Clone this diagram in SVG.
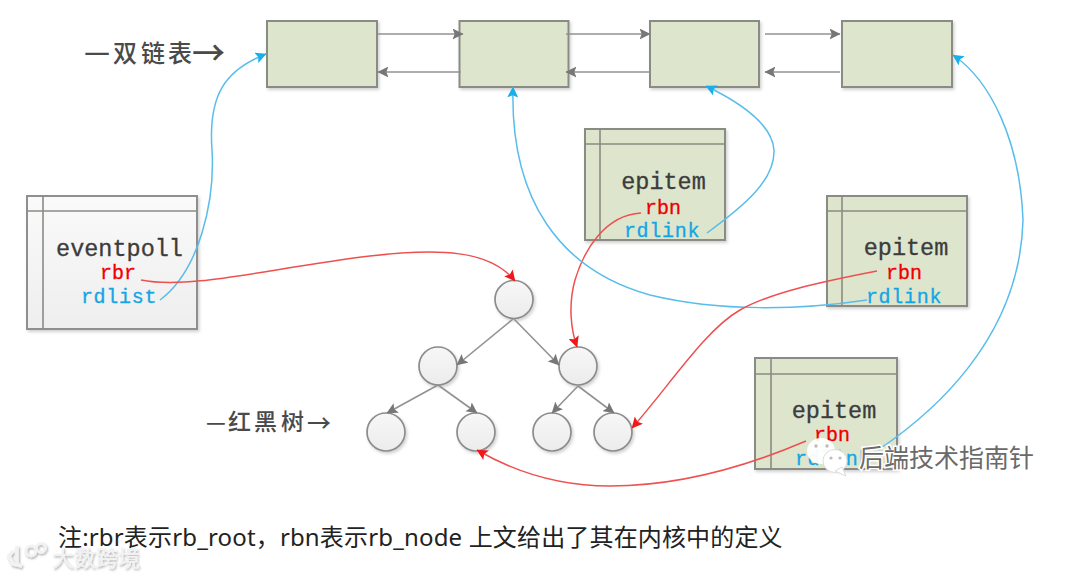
<svg xmlns="http://www.w3.org/2000/svg" width="1080" height="575" viewBox="0 0 1080 575">
<style>
.box{fill:#dde5cd;stroke:#8b8b85;stroke-width:2;filter:url(#sh)}
.poll{fill:url(#pollFill);stroke:#8f8f8f;stroke-width:2;filter:url(#sh)}
.div{fill:none;stroke:#8b8b85;stroke-width:1.6}
.edge{fill:none;stroke:#929292;stroke-width:1.6;marker-end:url(#ga)}
.blue{fill:none;stroke:#58bdea;stroke-width:1.5;marker-end:url(#ba)}
.red{fill:none;stroke:#ee5050;stroke-width:1.5;marker-end:url(#ra)}
.node{fill:url(#circ);stroke:#8c8c8c;stroke-width:1.7;filter:url(#sh)}
.mono{font-family:"Liberation Mono","DejaVu Sans Mono",monospace;text-anchor:middle}
.t{font-size:23.5px;fill:#3c3c3c;stroke:#3c3c3c;stroke-width:.3}
.r{font-size:20px;fill:#f00000;stroke:#f00000;stroke-width:.3}
.b{font-size:20px;fill:#12a5e6;stroke:#12a5e6;stroke-width:.3;letter-spacing:.7px}
.cn{font-family:"Noto Sans CJK SC",sans-serif;font-size:24px;font-weight:500;fill:#4a4a4a}
.note{font-family:"Noto Sans","Noto Sans CJK SC",sans-serif;font-size:24px;fill:#222;letter-spacing:.16px}
.wm{font-family:"Noto Sans CJK SC",sans-serif;paint-order:stroke}
</style>
<defs>
<filter id="sh" x="-10%" y="-10%" width="125%" height="125%"><feDropShadow dx="1.5" dy="2" stdDeviation="1.5" flood-color="#000" flood-opacity=".18"/></filter>
<filter id="wmsh" x="-10%" y="-10%" width="125%" height="130%"><feDropShadow dx="1" dy="1.5" stdDeviation="1" flood-color="#000" flood-opacity=".35"/></filter>
<linearGradient id="pollFill" x1="0" y1="0" x2="0" y2="1"><stop offset="0" stop-color="#fafafa"/><stop offset="1" stop-color="#eeeeee"/></linearGradient>
<linearGradient id="circ" x1="0" y1="0" x2="0" y2="1"><stop offset="0" stop-color="#f7f7f7"/><stop offset="1" stop-color="#ececec"/></linearGradient>
<marker id="ga" viewBox="0 0 10 10" refX="9.5" refY="5" markerWidth="11" markerHeight="11" markerUnits="userSpaceOnUse" orient="auto"><path d="M0,0L10,5L0,10L2,5Z" fill="#777"/></marker>
<marker id="ba" viewBox="0 0 10 10" refX="9.5" refY="5" markerWidth="11" markerHeight="11" markerUnits="userSpaceOnUse" orient="auto"><path d="M0,0L10,5L0,10L2,5Z" fill="#1aaeea"/></marker>
<marker id="ra" viewBox="0 0 10 10" refX="9.5" refY="5" markerWidth="11" markerHeight="11" markerUnits="userSpaceOnUse" orient="auto"><path d="M0,0L10,5L0,10L2,5Z" fill="#f01818"/></marker>
</defs>
<rect width="1080" height="575" fill="#fff"/>

<g id="list-1"><rect class="box" x="267" y="21" width="110" height="66"/></g>
<g id="list-2"><rect class="box" x="459.500" y="21" width="109" height="66"/></g>
<g id="list-3"><rect class="box" x="650" y="21" width="109" height="66"/></g>
<g id="list-4"><rect class="box" x="842" y="21" width="110" height="66"/></g>

<g id="eventpoll"><rect class="poll" x="27" y="196" width="170" height="133"/><path class="div" d="M43,196V329M27,211H197"/>
<text class="mono t" x="119.500" y="256">eventpoll</text><text class="mono r" x="118" y="279">rbr</text><text class="mono b" x="119" y="303">rdlist</text></g>
<g id="epitem-1"><rect class="box" x="585" y="129" width="140" height="111"/><path class="div" d="M600,129V240M585,144H725"/>
<text class="mono t" x="663.500" y="188.500">epitem</text><text class="mono r" x="663" y="213.500">rbn</text><text class="mono b" x="662" y="236.500">rdlink</text></g>
<g id="epitem-2"><rect class="box" x="827" y="196" width="140" height="110"/><path class="div" d="M842,196V306M827,211H967"/>
<text class="mono t" x="906" y="255">epitem</text><text class="mono r" x="904" y="278.500">rbn</text><text class="mono b" x="904" y="303">rdlink</text></g>
<g id="epitem-3"><rect class="box" x="755" y="358" width="142" height="111"/><path class="div" d="M771,358V469M755,374H897"/>
<text class="mono t" x="834" y="418">epitem</text><text class="mono r" x="832" y="441">rbn</text><text class="mono b" x="833" y="465">rdlink</text></g>

<g id="tree-root"><circle class="node" cx="514" cy="299.500" r="19"/></g>
<g id="tree-l"><circle class="node" cx="438" cy="366" r="19"/></g>
<g id="tree-r"><circle class="node" cx="578" cy="366" r="19"/></g>
<g id="tree-ll"><circle class="node" cx="386" cy="432" r="19"/></g>
<g id="tree-lr"><circle class="node" cx="476" cy="432" r="19"/></g>
<g id="tree-rl"><circle class="node" cx="552" cy="432" r="19"/></g>
<g id="tree-rr"><circle class="node" cx="613" cy="432" r="19"/></g>

<g id="connectors">
<path class="edge" d="M378,34H463"/><path class="edge" d="M461,72H378"/>
<path class="edge" d="M566,34H650"/><path class="edge" d="M650,72H566"/>
<path class="edge" d="M765,34H840"/><path class="edge" d="M840,72H765"/>
<path class="edge" d="M513,319L457,365"/><path class="edge" d="M514,319L559,365"/>
<path class="edge" d="M438,385L387,413"/><path class="edge" d="M438,385L477,413"/>
<path class="edge" d="M578,386L552,413"/><path class="edge" d="M578,386L614,413"/>
<path class="blue" d="M160,300C200,270 215,200 212,150C208,95 225,70 266,54"/>
<path class="red" d="M141,280C190,290 270,268 370,256C440,248 490,250 515,281"/>
<path class="red" d="M641,213C605,215 584,250 575,280C568,305 571,330 577,347"/>
<path class="blue" d="M707,233C745,205 775,180 774,150C772,122 735,100 706,86"/>
<path class="blue" d="M867,300C800,310 720,312 650,295C560,270 510,200 513,87"/>
<path class="red" d="M877,271C820,282 770,293 740,310C705,330 670,385 632,428"/>
<path class="red" d="M806,441C750,465 680,486 610,486C560,486 515,472 477,450"/>
<path class="blue" d="M878,450C930,415 1020,340 1023,220C1020,140 990,80 953,55"/>
</g>

<text class="cn" x="207" y="430" id="label-tree"><tspan x="206" font-size="22">—</tspan><tspan x="228" font-size="23">红</tspan><tspan x="254" font-size="23">黑</tspan><tspan x="281" font-size="23">树</tspan><tspan x="307" dy="2" font-size="24">→</tspan></text>
<text class="cn" id="label-list" y="62"><tspan x="84" font-size="29">—</tspan><tspan x="113" font-size="24">双</tspan><tspan x="141">链</tspan><tspan x="168">表</tspan><tspan x="192" dy="3" font-size="33">→</tspan></text>
<text class="note" x="58" y="546">注:rbr表示rb_root，rbn表示rb_node 上文给出了其在内核中的定义</text>

<g id="watermark-wechat">
<ellipse cx="821" cy="451" rx="14" ry="13" fill="#fff" fill-opacity=".95"/>
<ellipse cx="835" cy="461" rx="12" ry="11.500" fill="#fff" stroke="#ddd"/>
<path d="M835,471L846,476L842,467Z" fill="#fff" stroke="#ddd"/>
<circle cx="816" cy="446" r="1.700" fill="#bbb"/><circle cx="827" cy="446" r="1.700" fill="#bbb"/>
<circle cx="831" cy="458" r="1.600" fill="#bbb"/><circle cx="840" cy="458" r="1.600" fill="#bbb"/>
<text class="wm" x="859" y="467" font-size="25" fill="#6a6a6a" stroke="#fff" stroke-width="3">后端技术指南针</text>
</g>
<g id="watermark-corner" filter="url(#wmsh)">
<path d="M17,546V564M13,551L9,556L13,564L22,566" fill="none" stroke="#f2f2f2" stroke-width="3.500"/>
<circle cx="31" cy="551" r="5" fill="none" stroke="#f2f2f2" stroke-width="2.500"/>
<circle cx="41" cy="548" r="4.500" fill="none" stroke="#f2f2f2" stroke-width="2.500"/>
<text class="wm" x="52" y="566" font-size="22" fill="#f2f2f2">大数跨境</text>
</g>
</svg>
